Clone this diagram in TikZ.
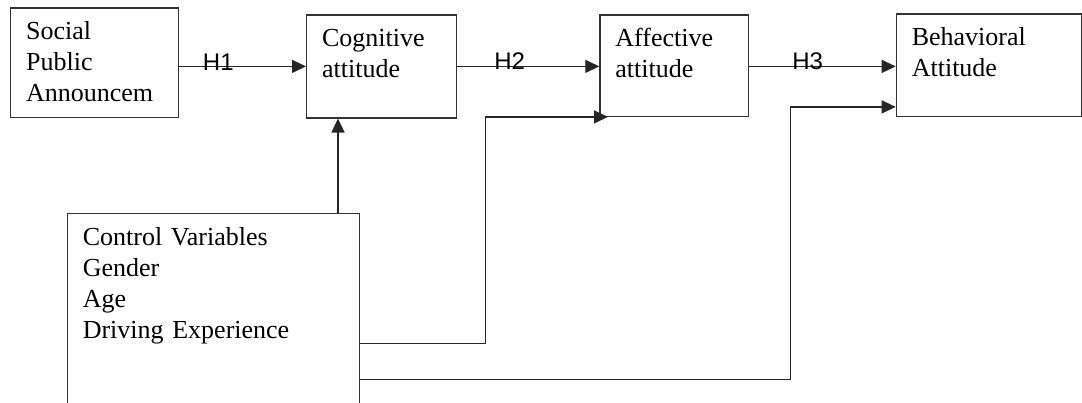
\documentclass[tikz,border=0pt]{standalone}
\usepackage{fontspec}
\setmainfont{Liberation Serif}
\newfontfamily\hypfont{Liberation Sans}
\usetikzlibrary{arrows.meta,positioning}

\begin{document}
\begin{tikzpicture}[x=0.5pt, y=-0.5pt, >={Triangle[length=7pt, width=6.5pt]},
    box/.style={draw=black!80, line width=0.6pt, anchor=north west, align=left,
        inner xsep=7.75pt, inner ysep=7pt, text height=9pt,
        font=\fontsize{13}{15.5}\selectfont},
    conn/.style={->, draw=black!85, line width=0.6pt},
    hyp/.style={font=\fontsize{12}{14}\selectfont\hypfont, anchor=base, inner sep=0pt}]
    \useasboundingbox (0,0) rectangle (1082,402);
    \clip (0,0) rectangle (1082,402);
    % Boxes
    \node[box, text width=68.35pt, text depth=31.7pt] (spa) at (10,7.3) {Social\\Public\\Announcem};
    \node[box, text width=59.35pt, text depth=28.5pt] (cog) at (306,14.3) {Cognitive\\attitude};
    \node[box, text width=58.7pt, text depth=27.7pt] (aff) at (599.3,14.3) {Affective\\attitude};
    \node[box, text width=77.15pt, text depth=28.2pt] (beh) at (895.7,13.3) {Behavioral\\Attitude};
    \node[box, text width=130.65pt, text depth=80pt] (ctl) at (66.7,212.7)
        {Control Variables\\Gender\\Age\\Driving Experience};
    % Hypotheses H1--H3
    \draw[conn] (spa.east |- cog.west) -- (cog.west) node[hyp, pos=0.31, yshift=-2.15pt] {H1};
    \draw[conn] (cog.east) -- (aff.west |- cog.east) node[hyp, pos=0.37, yshift=-1.65pt] {H2};
    \draw[conn] (aff.east |- cog.east) -- (beh.west |- cog.east) node[hyp, pos=0.40, yshift=-1.65pt] {H3};
    % Control paths
    \coordinate (cogin) at ([xshift=16pt]cog.south west);
    \coordinate (affin) at ([xshift=4.35pt]aff.south west);
    \coordinate (behin) at ([yshift=5pt]beh.south west);
    \coordinate (out1) at ([yshift=-65.3pt]ctl.north east);
    \coordinate (out2) at ([yshift=-83.3pt]ctl.north east);
    \draw[conn] (ctl.north -| cogin) -- (cogin);
    \draw[conn] (out1) -- ++(125.3,0) |- (affin);
    \draw[conn] (out2) -- ++(430.3,0) |- (behin);
\end{tikzpicture}
\end{document}
